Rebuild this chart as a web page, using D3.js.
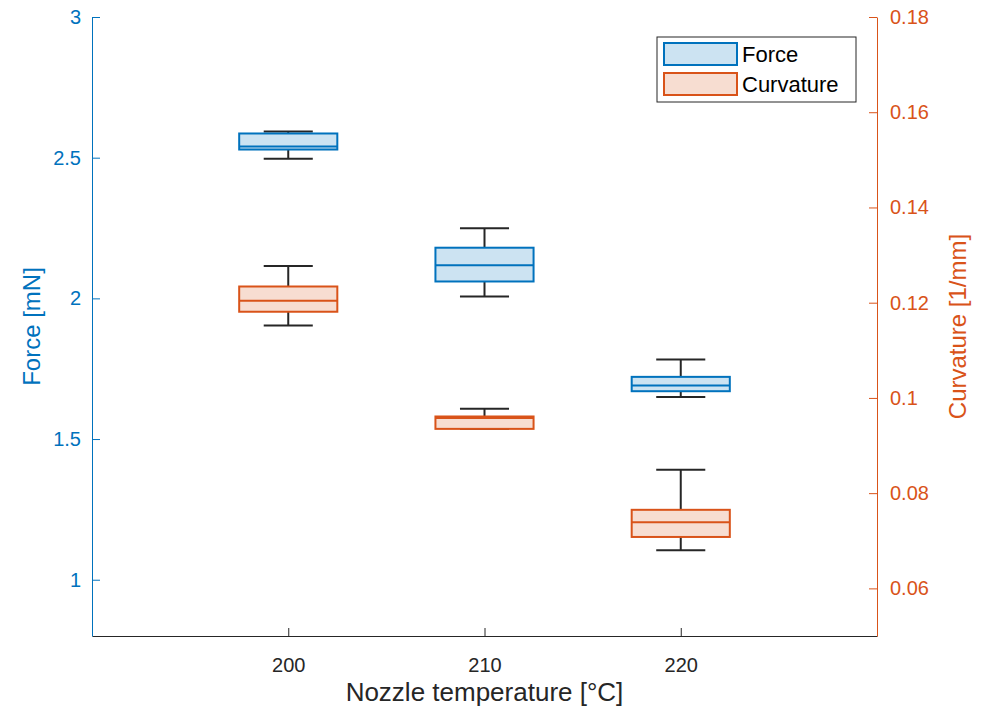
<!DOCTYPE html>
<html>
<head>
<meta charset="utf-8">
<script src="https://cdn.jsdelivr.net/npm/d3@7"></script>
<style>
  body { margin: 0; background: #fff; }
  text { font-family: "Liberation Sans", Arial, sans-serif; }
</style>
</head>
<body>
<script>
var temps = [200, 210, 220];
// box stats per temperature: [lower whisker, q1, median, q3, upper whisker]
var forceStats = [
  [2.496, 2.529, 2.540, 2.586, 2.593],
  [2.007, 2.060, 2.118, 2.180, 2.249],
  [1.649, 1.670, 1.690, 1.721, 1.783]
];
var curvStats = [
  [0.1152, 0.1181, 0.1204, 0.1234, 0.1277],
  [0.0935, 0.0935, 0.0958, 0.0961, 0.0977],
  [0.0680, 0.0708, 0.0739, 0.0765, 0.0849]
];
var forceTicks = [1, 1.5, 2, 2.5, 3];
var curvTicks = [0.06, 0.08, 0.1, 0.12, 0.14, 0.16, 0.18];
var seriesNames = ["Force", "Curvature"];

var blue = "#0072BD", blueFill = "#CCE3F2";
var orange = "#D95319", orangeFill = "#F7DDD1";
var dark = "#262626";

var W = 984, H = 713;
var plotL = 92, plotR = 877, plotT = 17, plotB = 636;

var svg = d3.select("body").append("svg")
  .attr("width", W).attr("height", H);

var x = d3.scaleLinear().domain([190, 230]).range([plotL, plotR]);
var yF = d3.scaleLinear().domain([0.8, 3]).range([plotB, plotT]);
var yC = d3.scaleLinear().domain([0.05, 0.18]).range([plotB, plotT]);

function styleAxis(g, color) {
  g.select(".domain").attr("stroke", color).attr("stroke-width", 1);
  g.selectAll(".tick line").attr("stroke", color);
  g.selectAll(".tick text").attr("fill", color)
    .style("font-size", "20px");
}

// x axis
var gx = svg.append("g").attr("transform", "translate(0," + plotB + ")")
  .call(d3.axisBottom(x).tickValues(temps).tickSizeInner(-8).tickSizeOuter(0).tickPadding(22));
styleAxis(gx, dark);

// left axis
var gl = svg.append("g").attr("transform", "translate(" + plotL + ",0)")
  .call(d3.axisLeft(yF).tickValues(forceTicks).tickFormat(d3.format("")).tickSizeInner(-8).tickSizeOuter(0).tickPadding(11));
styleAxis(gl, blue);

// right axis
var gr = svg.append("g").attr("transform", "translate(" + plotR + ",0)")
  .call(d3.axisRight(yC).tickValues(curvTicks).tickFormat(d3.format("")).tickSizeInner(-8).tickSizeOuter(0).tickPadding(13));
styleAxis(gr, orange);

// draw boxes
function drawBoxes(stats, y, stroke, fill, cls) {
  var hw = (x(2.5) - x(0));
  var cw = (x(1.25) - x(0));
  var g = svg.selectAll("g." + cls).data(stats).enter().append("g").attr("class", cls);
  g.append("line")
    .attr("x1", function(d, i) { return x(temps[i]); })
    .attr("x2", function(d, i) { return x(temps[i]); })
    .attr("y1", function(d) { return y(d[4]); })
    .attr("y2", function(d) { return y(d[3]); })
    .attr("stroke", dark).attr("stroke-width", 2);
  g.append("line")
    .attr("x1", function(d, i) { return x(temps[i]); })
    .attr("x2", function(d, i) { return x(temps[i]); })
    .attr("y1", function(d) { return y(d[1]); })
    .attr("y2", function(d) { return y(d[0]); })
    .attr("stroke", dark).attr("stroke-width", 2);
  g.append("line")
    .attr("x1", function(d, i) { return x(temps[i]) - cw; })
    .attr("x2", function(d, i) { return x(temps[i]) + cw; })
    .attr("y1", function(d) { return y(d[4]); })
    .attr("y2", function(d) { return y(d[4]); })
    .attr("stroke", dark).attr("stroke-width", 2);
  g.append("line")
    .attr("x1", function(d, i) { return x(temps[i]) - cw; })
    .attr("x2", function(d, i) { return x(temps[i]) + cw; })
    .attr("y1", function(d) { return y(d[0]); })
    .attr("y2", function(d) { return y(d[0]); })
    .attr("stroke", dark).attr("stroke-width", 2);
  g.append("rect")
    .attr("x", function(d, i) { return x(temps[i]) - hw; })
    .attr("width", 2 * hw)
    .attr("y", function(d) { return y(d[3]); })
    .attr("height", function(d) { return y(d[1]) - y(d[3]); })
    .attr("fill", fill).attr("stroke", stroke).attr("stroke-width", 2);
  g.append("line")
    .attr("x1", function(d, i) { return x(temps[i]) - hw; })
    .attr("x2", function(d, i) { return x(temps[i]) + hw; })
    .attr("y1", function(d) { return y(d[2]); })
    .attr("y2", function(d) { return y(d[2]); })
    .attr("stroke", stroke).attr("stroke-width", 2);
}
drawBoxes(forceStats, yF, blue, blueFill, "fbox");
drawBoxes(curvStats, yC, orange, orangeFill, "cbox");

// axis labels
svg.append("text").attr("x", (plotL + plotR) / 2).attr("y", 701)
  .attr("text-anchor", "middle").attr("fill", dark)
  .style("font-size", "26px").text("Nozzle temperature [°C]");
svg.append("text")
  .attr("transform", "translate(40," + ((plotT + plotB) / 2) + ") rotate(-90)")
  .attr("text-anchor", "middle").attr("fill", blue)
  .style("font-size", "24px").text("Force [mN]");
svg.append("text")
  .attr("transform", "translate(966," + ((plotT + plotB) / 2) + ") rotate(-90)")
  .attr("text-anchor", "middle").attr("fill", orange)
  .style("font-size", "24px").text("Curvature [1/mm]");

// legend
var leg = svg.append("g").attr("transform", "translate(657,37)");
leg.append("rect").attr("width", 199).attr("height", 65)
  .attr("fill", "#fff").attr("stroke", dark).attr("stroke-width", 1);
var items = leg.selectAll("g.item").data(seriesNames).enter().append("g")
  .attr("class", "item")
  .attr("transform", function(d, i) { return "translate(7," + (6 + i * 30) + ")"; });
items.append("rect").attr("width", 73).attr("height", 22)
  .attr("fill", function(d, i) { return i ? orangeFill : blueFill; })
  .attr("stroke", function(d, i) { return i ? orange : blue; })
  .attr("stroke-width", 2);
items.append("text").attr("x", 78).attr("y", 19)
  .attr("fill", "#000").style("font-size", "22px")
  .text(function(d) { return d; });
</script>
</body>
</html>
